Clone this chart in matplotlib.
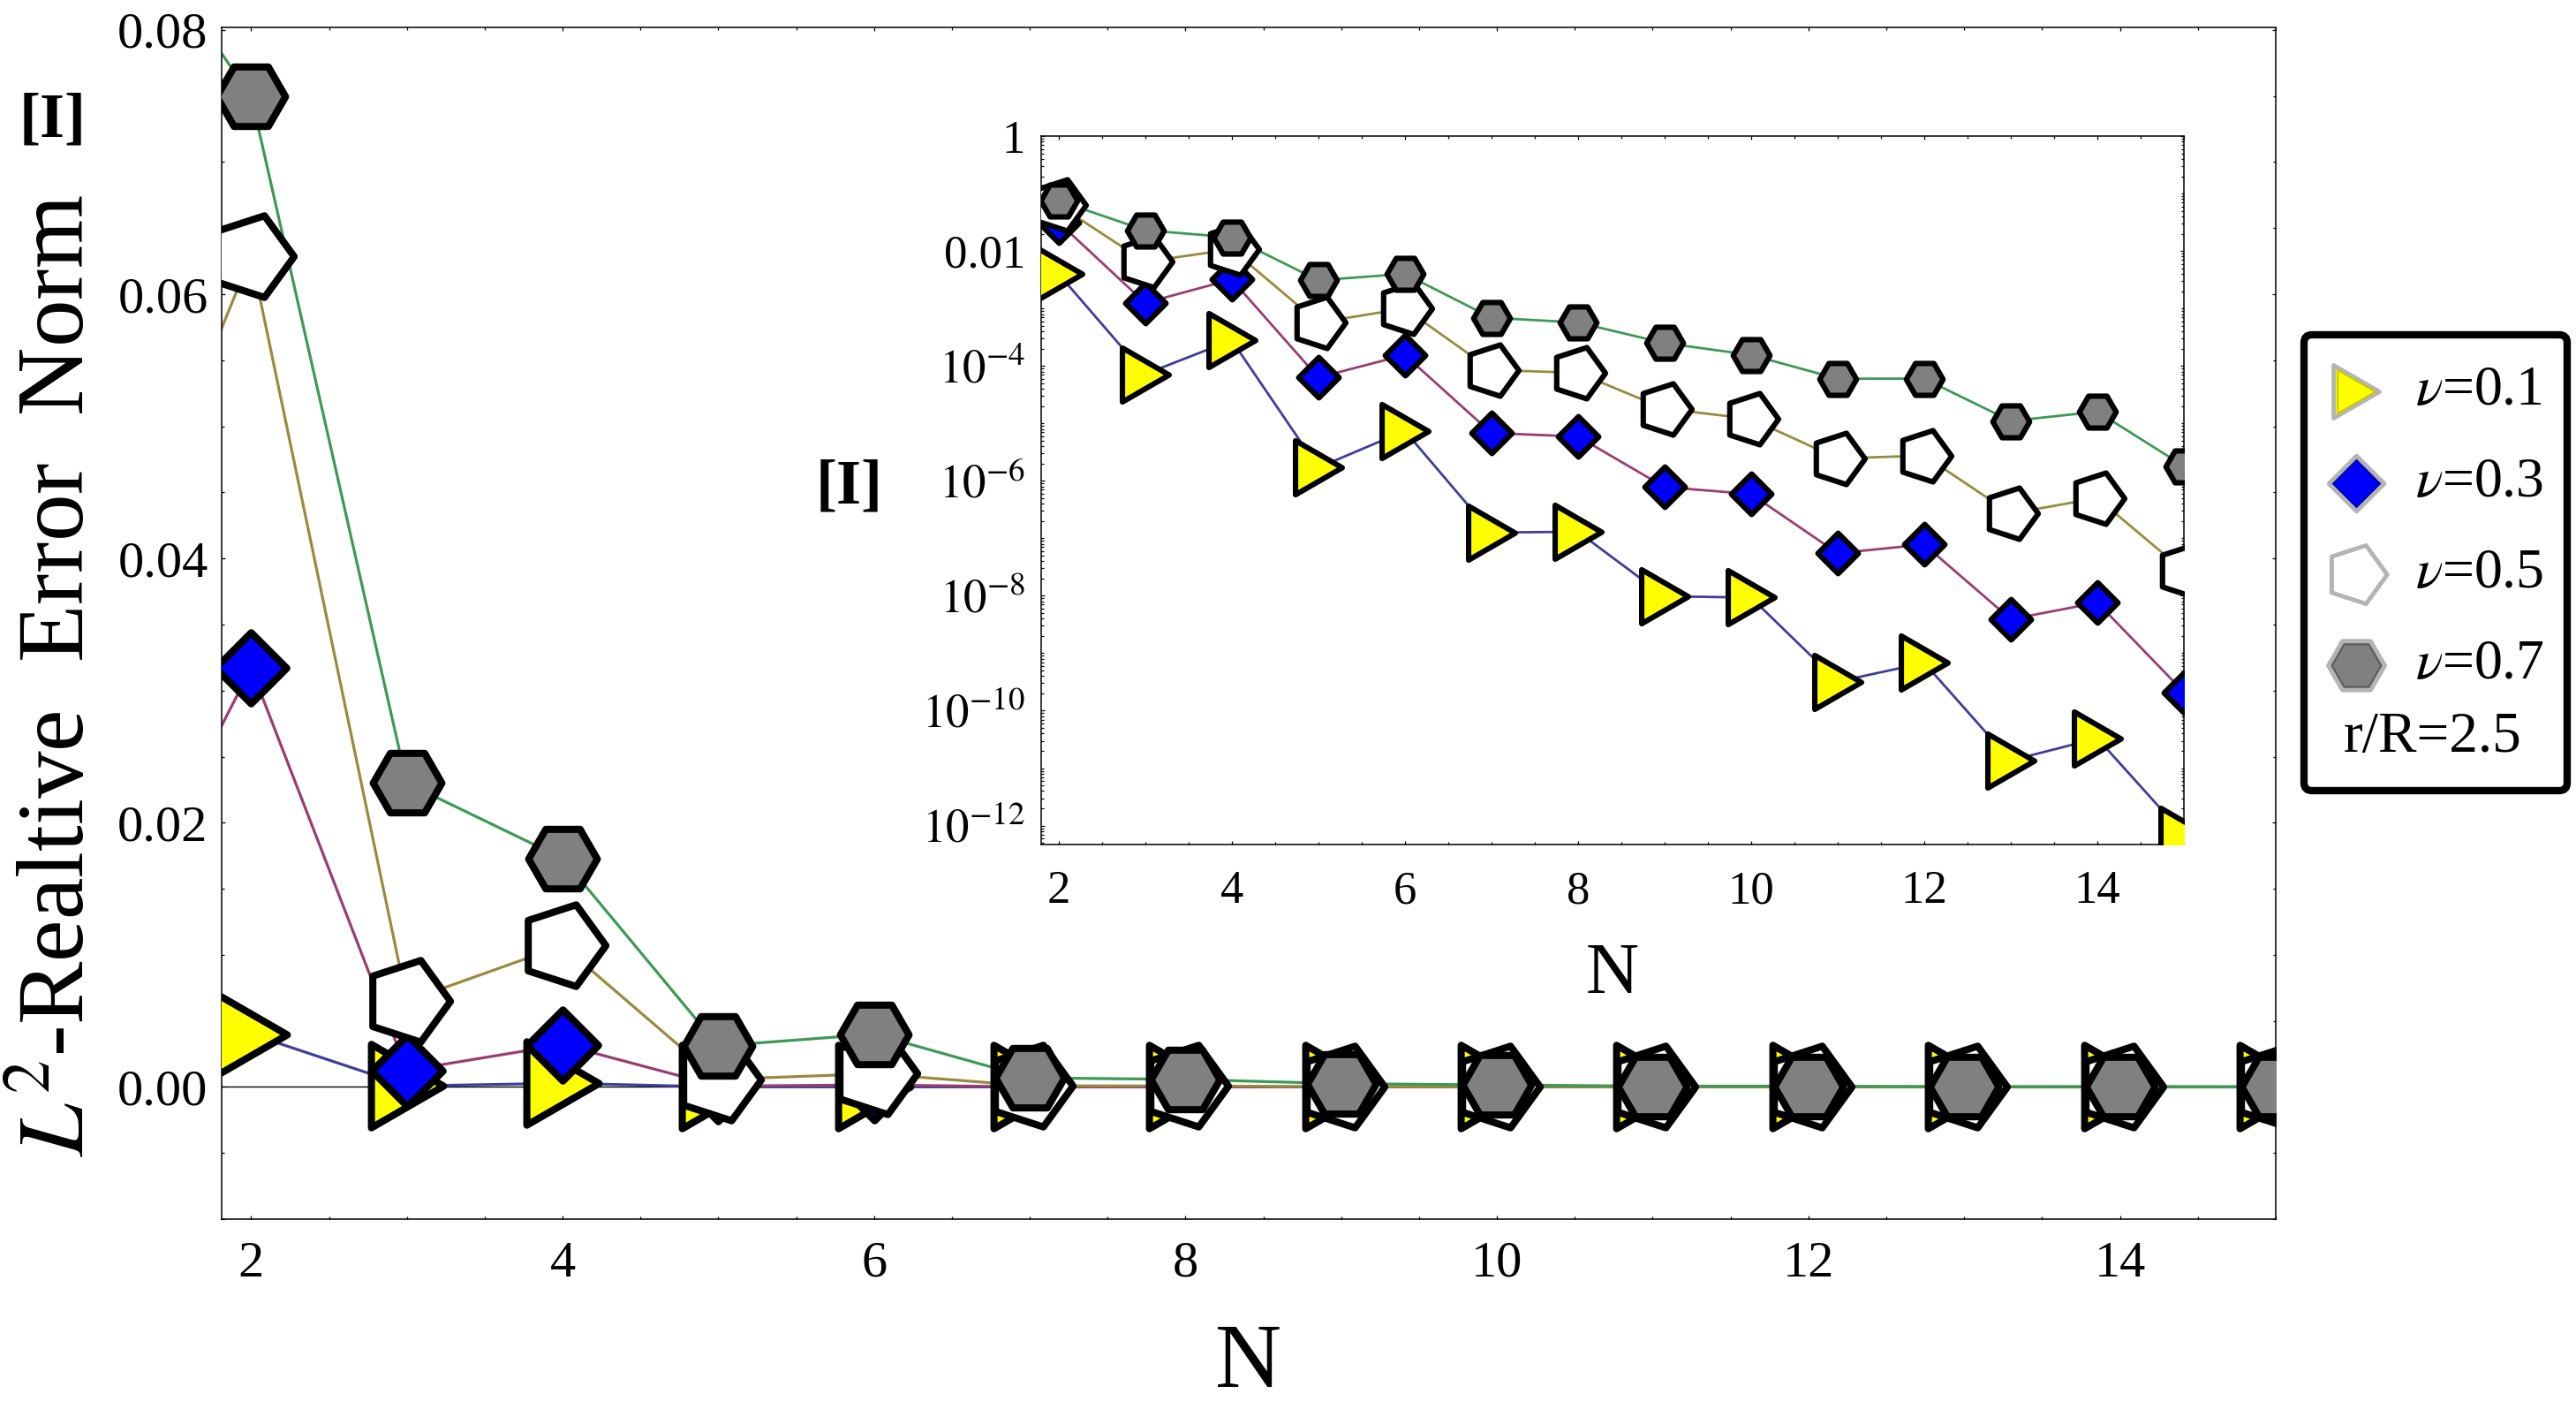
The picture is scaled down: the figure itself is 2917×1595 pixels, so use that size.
import numpy as np
import matplotlib.pyplot as plt
from matplotlib.path import Path
from matplotlib.patches import FancyBboxPatch
from matplotlib.ticker import FixedLocator, MultipleLocator, LogLocator, NullFormatter

plt.rcParams['font.family'] = ['Liberation Serif', 'DejaVu Serif']
plt.rcParams['mathtext.fontset'] = 'stix'

# ── Data ─────────────────────────────────────────────────────────────────────
N = np.arange(1, 16)

err_nu01 = [6.0e-3, 4.0e-3, 7.2e-5, 2.8e-4, 1.7e-6, 7.4e-6, 1.26e-7, 1.3e-7,
            9.8e-9, 9.3e-9, 3.2e-10, 6.8e-10, 1.36e-11, 3.3e-11, 7.0e-13]
err_nu03 = [8.7e-3, 3.17e-2, 1.25e-3, 3.2e-3, 6.3e-5, 1.55e-4, 6.8e-6, 5.9e-6,
            7.8e-7, 5.9e-7, 5.5e-8, 7.8e-8, 3.9e-9, 7.6e-9, 2.1e-10]
err_nu05 = [3.4e-2, 6.29e-2, 6.5e-3, 1.07e-2, 5.7e-4, 1.0e-3, 8.5e-5, 7.6e-5,
            1.8e-5, 1.2e-5, 2.45e-6, 2.75e-6, 2.7e-7, 5.0e-7, 2.7e-8]
err_nu07 = [9.2e-2, 7.5e-2, 2.3e-2, 1.73e-2, 3.1e-3, 4.0e-3, 6.9e-4, 5.7e-4,
            2.5e-4, 1.55e-4, 6.0e-5, 6.0e-5, 1.1e-5, 1.6e-5, 1.8e-6]

labels = [r'$\nu$=0.1', r'$\nu$=0.3', r'$\nu$=0.5', r'$\nu$=0.7']
ratio_label = 'r/R=2.5'

main_yticks = [0.0, 0.02, 0.04, 0.06, 0.08]
main_yticklabels = ['0.00', '0.02', '0.04', '0.06', '0.08']
xticks = [2, 4, 6, 8, 10, 12, 14]
inset_yticks = [1, 1e-2, 1e-4, 1e-6, 1e-8, 1e-10, 1e-12]
inset_yticklabels = ['1', '0.01', r'$10^{-4}$', r'$10^{-6}$', r'$10^{-8}$',
                     r'$10^{-10}$', r'$10^{-12}$']

# ── Styles ───────────────────────────────────────────────────────────────────
line_colors = ['#3f3d99', '#993d71', '#998b3d', '#3d9956']
face_colors = ['#ffff00', '#0000ff', '#ffffff', '#808080']
inner_colors = ['#c8c800', '#0000a8', '#ffffff', '#5a5a5a']

def polygon(angles_deg):
    a = np.radians(angles_deg)
    v = np.column_stack([np.cos(a), np.sin(a)])
    v = np.vstack([v, v[:1]])
    return Path(v, closed=True)

tri = Path([(-0.75, -0.866), (0.75, 0.0), (-0.75, 0.866), (-0.75, -0.866)], closed=True)
dia = Path([(0, 1), (1, 0), (0, -1), (-1, 0), (0, 1)], closed=True)
pent = polygon(np.arange(0, 360, 72))
hexa = polygon(np.arange(0, 360, 60))
markers = [tri, dia, pent, hexa]

main_ms = [68, 58, 70, 56]
inset_ms = [44, 33, 44, 30]
legend_ms = [43, 45, 50, 46]

series = [err_nu01, err_nu03, err_nu05, err_nu07]

# ── Figure ───────────────────────────────────────────────────────────────────
fig = plt.figure(figsize=(29.17, 15.95), dpi=100)
ax = fig.add_axes([0.0860, 0.1348, 0.7974, 0.8458])
axin = fig.add_axes([0.4042, 0.4006, 0.4436, 0.5028])

ax.axhline(0.0, color='black', lw=1.0, zorder=1.5)

for a, ms, mew, lw in [(ax, main_ms, 5.8, 2.3), (axin, inset_ms, 4.4, 2.0)]:
    for vals, c in zip(series, line_colors):
        a.plot(N, vals, color=c, lw=lw, zorder=2)
    for vals, m, fc, s in zip(series, markers, face_colors, ms):
        a.plot(N, vals, ls='none', marker=m, ms=s, mfc=fc, mec='black',
               mew=mew, zorder=3)

# main axes
ax.set_xlim(1.81, 15.0)
ax.set_ylim(-0.01, 0.0802)
ax.set_xticks(xticks)
ax.xaxis.set_minor_locator(MultipleLocator(0.5))
ax.yaxis.set_major_locator(FixedLocator(main_yticks))
ax.set_yticklabels(main_yticklabels)
ax.yaxis.set_minor_locator(MultipleLocator(0.005))
ax.tick_params(which='both', direction='in', top=True, right=True, width=0.9)
ax.tick_params(which='major', length=3.2)
ax.tick_params(which='minor', length=2.0)
ax.tick_params(axis='x', which='major', labelsize=42, pad=18)
ax.tick_params(axis='y', which='major', labelsize=42, pad=11)
ax.set_xlabel('N', fontsize=75)
ax.xaxis.set_label_coords(0.5, -0.0875)
ax.xaxis.label.set_va('top')
for s in ax.spines.values():
    s.set_linewidth(1.1)

# inset axes
axin.set_yscale('log')
axin.set_xlim(1.8, 15.0)
axin.set_ylim(10 ** -12.33, 1.0)
axin.set_xticks(xticks)
axin.xaxis.set_minor_locator(MultipleLocator(0.5))
axin.yaxis.set_major_locator(FixedLocator(inset_yticks))
axin.set_yticklabels(inset_yticklabels)
axin.yaxis.set_minor_locator(LogLocator(base=10, subs=np.arange(1, 10), numticks=100))
axin.yaxis.set_minor_formatter(NullFormatter())
axin.tick_params(which='both', direction='in', top=True, right=True, width=0.9)
axin.tick_params(which='major', length=3.2)
axin.tick_params(which='minor', length=2.0)
axin.tick_params(axis='x', which='major', labelsize=38, pad=21)
axin.tick_params(axis='y', which='major', labelsize=38, pad=13)
axin.set_xlabel('N', fontsize=60)
axin.xaxis.set_label_coords(0.5, -0.138)
axin.xaxis.label.set_va('top')
for s in axin.spines.values():
    s.set_linewidth(1.1)

# axis titles
fig.text(95 / 2917, 1 - 765 / 1595, r'$L^2$-Realtive  Error  Norm', fontsize=77,
         rotation=90, rotation_mode='anchor', ha='center', va='baseline')
fig.text(60 / 2917, 1 - 137 / 1595, '[I]', fontsize=52, fontweight='bold',
         ha='center', va='center')
fig.text(962 / 2917, 1 - 552 / 1595, '[I]', fontsize=52, fontweight='bold',
         ha='center', va='center')

# ── Legend box ───────────────────────────────────────────────────────────────
lax = fig.add_axes([2605 / 2917, 1 - 899 / 1595, 306 / 2917, 524 / 1595])
lax.set_xlim(0, 306)
lax.set_ylim(524, 0)
lax.axis('off')
lax.add_patch(FancyBboxPatch((4, 4), 298, 516, boxstyle='round,pad=0,rounding_size=9',
                             lw=6, ec='black', fc='white', clip_on=False))
row_y = [68, 172, 275, 378]
inner_scale = [0.82, 0.84, 0.87, 0.87]
for y, m, fc, ic, s, k, lab in zip(row_y, markers, face_colors, inner_colors,
                                    legend_ms, inner_scale, labels):
    lax.plot([63], [y], marker=m, ms=s, mfc=fc, mec='#b4b4b4', mew=3.6, ls='none')
    lax.plot([63], [y], marker=m, ms=s * k, mfc='none', mec=ic, mew=1.4, ls='none')
    lax.text(130, y, lab, fontsize=46, ha='left', va='center')
lax.text(150, 460, ratio_label, fontsize=47, ha='center', va='center')

fig.savefig('out.png', dpi=100)
